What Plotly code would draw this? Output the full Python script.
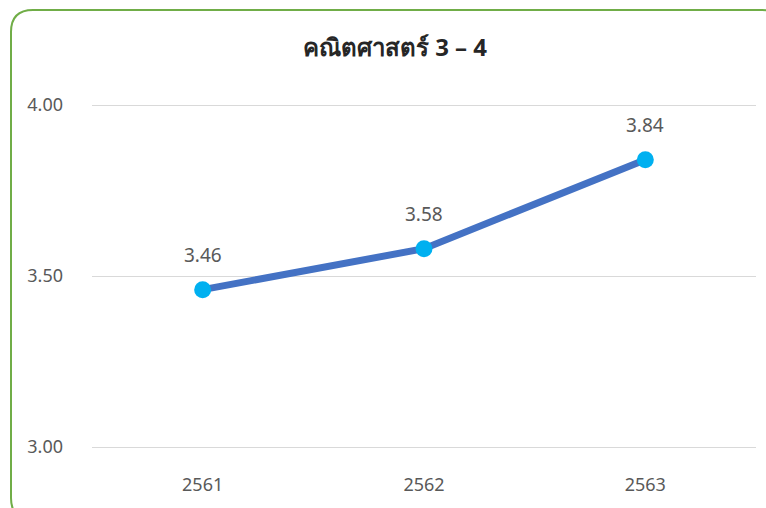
import plotly.graph_objects as go

years = ['2561', '2562', '2563']
scores = [3.46, 3.58, 3.84]
y_ticks = [3.00, 3.50, 4.00]
title_text = 'คณิตศาสตร์ 3 – 4'

W, H = 766, 508
pad = 2  # extra px so the edge gridlines at 3.00 / 4.00 get drawn
L, R, T, B = 92, 10, 105 - pad, 61 - pad
pw, ph = W - L - R, H - T - B
span = 1.0 * ph / (ph - 2 * pad)
y_range = [3.5 - span / 2, 3.5 + span / 2]


def px(x):
    return (x - L) / pw


def py(y):
    return (H - B - y) / ph


# rounded green frame, drawn in paper coords (runs off the right/bottom edge)
x0, x1, y0, y1, rad = 11, 784, 10, 520, 22
frame = (
    f"M {px(x0)},{py(y0 + rad)} Q {px(x0)},{py(y0)} {px(x0 + rad)},{py(y0)} "
    f"L {px(x1 - rad)},{py(y0)} Q {px(x1)},{py(y0)} {px(x1)},{py(y0 + rad)} "
    f"L {px(x1)},{py(y1 - rad)} Q {px(x1)},{py(y1)} {px(x1 - rad)},{py(y1)} "
    f"L {px(x0 + rad)},{py(y1)} Q {px(x0)},{py(y1)} {px(x0)},{py(y1 - rad)} Z"
)

fig = go.Figure()

fig.add_trace(go.Scatter(
    x=years, y=scores,
    mode='lines+markers',
    line=dict(color='#4472C4', width=7),
    marker=dict(color='#00B0F0', size=17),
    cliponaxis=False,
    showlegend=False,
))

# data labels above each point
for i, v in enumerate(scores):
    fig.add_annotation(
        x=i, y=v, text=f"{v:.2f}", showarrow=False, yshift=35,
        font=dict(size=19, color='#595959'),
    )

fig.add_shape(type='path', path=frame, xref='paper', yref='paper',
              line=dict(color='#70AD47', width=2), layer='below')

fig.update_layout(
    width=W, height=H,
    title=dict(text=f"<b>{title_text}</b>", x=395 / W, xref='container', xanchor='center',
               y=1 - 48 / H, yanchor='middle',
               font=dict(size=24, color='#262626')),
    font=dict(family='Noto Sans, DejaVu Sans, sans-serif', color='#595959'),
    paper_bgcolor='white', plot_bgcolor='white',
    margin=dict(l=L, r=R, t=T, b=B),
)

fig.update_xaxes(type='category', range=[-0.5, 2.5], showgrid=False, showline=False,
                 ticks='', tickfont=dict(size=18, color='#595959'), ticklabelstandoff=23)
fig.update_yaxes(range=y_range, tickvals=y_ticks, tickformat='.2f', showgrid=True,
                 gridcolor='#D9D9D9', gridwidth=1, zeroline=False, showline=False,
                 tickfont=dict(size=18, color='#595959'), ticklabelstandoff=28)

fig.write_html("out.html", config={'displayModeBar': False},
               post_script="document.body.style.margin='0';")
